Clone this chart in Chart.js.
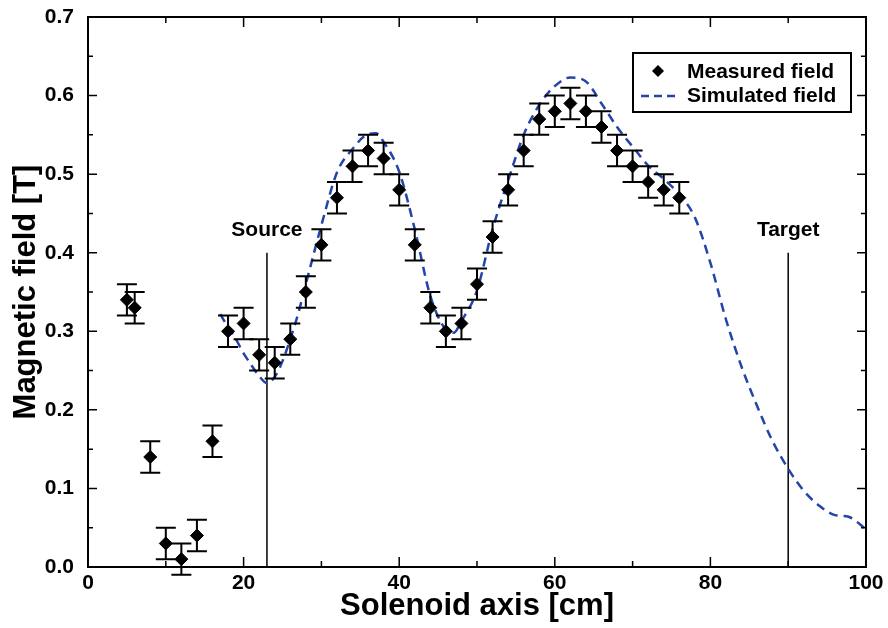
<!DOCTYPE html>
<html>
<head>
<meta charset="utf-8">
<script src="https://cdn.jsdelivr.net/npm/chart.js@4.4.1/dist/chart.umd.min.js"></script>
<style>
  html, body { margin: 0; padding: 0; background: #fff; }
  #wrap { width: 888px; height: 628px; position: relative; }
</style>
</head>
<body>
<div id="wrap"><canvas id="chart"></canvas></div>
<script>
// measured field (cm, T) and its error
const measX = [5, 6, 8, 10, 12, 14, 16, 18, 20, 22, 24, 26, 28, 30, 32, 34, 36, 38, 40, 42, 44, 46, 48, 50,
               52, 54, 56, 58, 60, 62, 64, 66, 68, 70, 72, 74, 76];
const measY = [0.34, 0.33, 0.14, 0.03, 0.01, 0.04, 0.16, 0.30, 0.31, 0.27, 0.26, 0.29, 0.35, 0.41, 0.47, 0.51,
               0.53, 0.52, 0.48, 0.41, 0.33, 0.30, 0.31, 0.36, 0.42, 0.48, 0.53, 0.57, 0.58, 0.59, 0.58, 0.56,
               0.53, 0.51, 0.49, 0.48, 0.47];
const measErr = 0.02;

// simulated field
const simX = [17, 18, 19, 20, 21, 22, 23, 24, 25, 26, 27, 28, 29, 30, 32, 34, 36, 37, 38, 40, 42, 44, 46, 47,
              48, 50, 52, 54, 56, 58, 60, 62, 64, 66, 68, 70, 72, 74, 76, 78, 80, 82, 84, 86, 88, 90, 92, 94,
              96, 97, 98, 100];
const simY = [0.322, 0.305, 0.29, 0.272, 0.257, 0.243, 0.234, 0.242, 0.262, 0.29, 0.322, 0.36, 0.398, 0.435,
              0.502, 0.532, 0.551, 0.552, 0.541, 0.503, 0.43, 0.345, 0.302, 0.298, 0.313, 0.352, 0.43, 0.492,
              0.55, 0.588, 0.612, 0.623, 0.618, 0.59, 0.56, 0.535, 0.511, 0.494, 0.474, 0.445, 0.387, 0.315,
              0.255, 0.205, 0.16, 0.125, 0.097, 0.078, 0.066, 0.065, 0.063, 0.048];

// source / target markers
const markNames = ['Source', 'Target'];
const markX = [23, 90];
const markTop = 0.40;

const xTicks = [0, 20, 40, 60, 80, 100];
const yTicks = [0, 0.1, 0.2, 0.3, 0.4, 0.5, 0.6, 0.7];

const BLUE = '#2344a8';
const FONT = '"Liberation Sans", Arial, sans-serif';

const errorBars = {
    id: 'errorBars',
    afterDatasetsDraw(chart) {
        const {ctx, scales: {x, y}} = chart;
        ctx.save();
        ctx.strokeStyle = '#000';
        ctx.lineWidth = 2;
        measX.forEach((v, i) => {
            const px = x.getPixelForValue(v);
            const top = y.getPixelForValue(measY[i] + measErr);
            const bot = y.getPixelForValue(measY[i] - measErr);
            ctx.beginPath();
            ctx.moveTo(px, top); ctx.lineTo(px, bot);
            ctx.moveTo(px - 10, top); ctx.lineTo(px + 10, top);
            ctx.moveTo(px - 10, bot); ctx.lineTo(px + 10, bot);
            ctx.stroke();
        });
        // marker labels
        ctx.fillStyle = '#000';
        ctx.font = 'bold 21px ' + FONT;
        ctx.textAlign = 'center';
        ctx.textBaseline = 'bottom';
        markX.forEach((v, i) => {
            ctx.fillText(markNames[i], x.getPixelForValue(v), y.getPixelForValue(markTop) - 12);
        });
        ctx.restore();
    }
};

const frame = {
    id: 'frame',
    afterDraw(chart) {
        const {ctx, chartArea: a, scales: {x, y}} = chart;
        ctx.save();
        ctx.strokeStyle = '#000';
        ctx.lineWidth = 2;
        ctx.strokeRect(a.left, a.top, a.right - a.left, a.bottom - a.top);
        ctx.lineWidth = 1.5;
        ctx.beginPath();
        for (let v = 0; v <= 100; v += 10) {
            const px = x.getPixelForValue(v);
            const len = v % 20 === 0 ? 10 : 6;
            ctx.moveTo(px, a.bottom); ctx.lineTo(px, a.bottom - len);
            ctx.moveTo(px, a.top); ctx.lineTo(px, a.top + len);
        }
        for (let k = 0; k <= 14; k++) {
            const py = y.getPixelForValue(k * 0.05);
            const len = k % 2 === 0 ? 9 : 5;
            ctx.moveTo(a.left, py); ctx.lineTo(a.left + len, py);
            ctx.moveTo(a.right, py); ctx.lineTo(a.right - len, py);
        }
        ctx.stroke();

        // legend box
        const bx = a.right - 233, by = a.top + 36, bw = 218, bh = 59;
        ctx.fillStyle = '#fff';
        ctx.fillRect(bx, by, bw, bh);
        ctx.lineWidth = 2;
        ctx.strokeRect(bx, by, bw, bh);
        ctx.fillStyle = '#000';
        ctx.beginPath();
        const mx = bx + 25, my = by + 18;
        ctx.moveTo(mx, my - 6); ctx.lineTo(mx + 6, my); ctx.lineTo(mx, my + 6); ctx.lineTo(mx - 6, my);
        ctx.closePath(); ctx.fill();
        ctx.strokeStyle = BLUE;
        ctx.lineWidth = 2.5;
        ctx.setLineDash([8, 5]);
        ctx.beginPath();
        ctx.moveTo(bx + 8, by + 43); ctx.lineTo(bx + 42, by + 43);
        ctx.stroke();
        ctx.setLineDash([]);
        ctx.font = 'bold 21px ' + FONT;
        ctx.textBaseline = 'middle';
        ctx.fillText('Measured field', bx + 54, my + 1);
        ctx.fillText('Simulated field', bx + 54, by + 43);
        ctx.restore();
    }
};

const datasets = [
    {
        label: 'Measured field',
        type: 'scatter',
        data: measX.map((v, i) => ({x: v, y: measY[i]})),
        pointStyle: 'rectRot',
        pointRadius: 6.5,
        backgroundColor: '#000',
        borderColor: '#000',
        order: 0
    },
    {
        label: 'Simulated field',
        type: 'line',
        data: simX.map((v, i) => ({x: v, y: simY[i]})),
        borderColor: BLUE,
        borderWidth: 2.5,
        borderDash: [9, 6],
        pointRadius: 0,
        cubicInterpolationMode: 'monotone',
        fill: false,
        order: 1
    }
];
markX.forEach(v => datasets.push({
    type: 'line',
    data: [{x: v, y: 0}, {x: v, y: markTop}],
    borderColor: '#000',
    borderWidth: 1.5,
    pointRadius: 0,
    order: 2
}));

new Chart(document.getElementById('chart'), {
    data: {datasets},
    plugins: [errorBars, frame],
    options: {
        responsive: true,
        maintainAspectRatio: false,
        animation: false,
        layout: {padding: {top: 17, right: 22, bottom: 0, left: 0}},
        plugins: {legend: {display: false}, tooltip: {enabled: false}},
        scales: {
            x: {
                type: 'linear',
                min: 0, max: 100,
                afterBuildTicks: s => { s.ticks = xTicks.map(v => ({value: v})); },
                afterFit: s => { s.height = 61; s.paddingLeft = 0; s.paddingRight = 0; },
                grid: {display: false, drawTicks: false},
                border: {display: false},
                ticks: {
                    color: '#000',
                    padding: 4,
                    font: {family: FONT, size: 21, weight: 'bold'}
                },
                title: {
                    display: true,
                    text: 'Solenoid axis [cm]',
                    color: '#000',
                    padding: {top: 0, bottom: 3},
                    font: {family: FONT, size: 31, weight: 'bold'}
                }
            },
            y: {
                type: 'linear',
                min: 0, max: 0.7,
                afterBuildTicks: s => { s.ticks = yTicks.map(v => ({value: v})); },
                afterFit: s => { s.width = 88; s.paddingTop = 0; s.paddingBottom = 0; },
                grid: {display: false, drawTicks: false},
                border: {display: false},
                ticks: {
                    color: '#000',
                    padding: 14,
                    callback: v => Number(v).toFixed(1),
                    font: {family: FONT, size: 21, weight: 'bold'}
                },
                title: {
                    display: true,
                    text: 'Magnetic field [T]',
                    color: '#000',
                    padding: {top: 8, bottom: 0},
                    font: {family: FONT, size: 31, weight: 'bold'}
                }
            }
        }
    }
});
</script>
</body>
</html>
